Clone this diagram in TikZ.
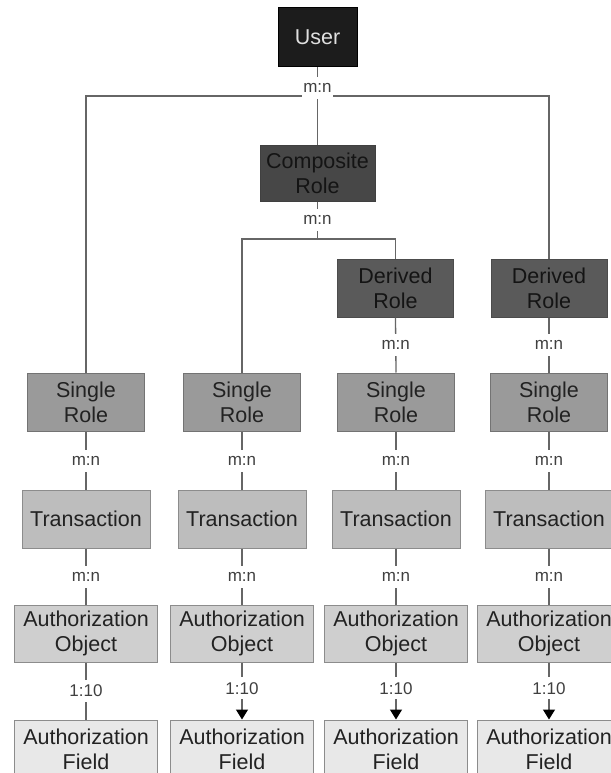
\documentclass[tikz,border=0pt]{standalone}
\usepackage{fontspec}
\setmainfont{Liberation Sans}
\usetikzlibrary{arrows.meta}
\definecolor{userfill}{HTML}{1C1C1C}
\definecolor{compfill}{HTML}{474747}
\definecolor{derivfill}{HTML}{5A5A5A}
\definecolor{singlefill}{HTML}{9A9A9A}
\definecolor{transfill}{HTML}{BDBDBD}
\definecolor{objfill}{HTML}{CFCFCF}
\definecolor{fieldfill}{HTML}{E8E8E8}
\definecolor{linecol}{HTML}{666666}
\definecolor{txtcol}{HTML}{222222}
\definecolor{darktxt}{HTML}{141414}
\definecolor{usertxt}{HTML}{E0E0E0}
\tikzset{
  box/.style={draw=#1, line width=1pt, inner sep=2pt, align=center,
    text=txtcol, font=\fontsize{21.5}{25}\selectfont},
  box/.default={black!45},
  userbox/.style={box=black, fill=userfill, text=usertxt,
    minimum width=79pt, minimum height=59pt},
  compbox/.style={box=black!75, fill=compfill, text=darktxt,
    minimum width=115pt, minimum height=56pt},
  derivbox/.style={box=black!70, fill=derivfill, text=darktxt,
    minimum width=116pt, minimum height=58pt},
  singlebox/.style={box=black!55, fill=singlefill,
    minimum width=117pt, minimum height=58pt},
  transbox/.style={box, fill=transfill,
    minimum width=128pt, minimum height=58pt},
  objbox/.style={box, fill=objfill,
    minimum width=143pt, minimum height=57pt},
  fieldbox/.style={box, fill=fieldfill,
    minimum width=143pt, minimum height=58pt},
  conn/.style={draw=linecol, line width=1.3pt},
  lbl/.style={fill=white, inner sep=1pt, minimum height=22pt,
    text=black!75, font=\fontsize{17}{19}\selectfont},
  tip/.style={-{Triangle[length=10pt 0 0,width=12pt 0 0,color=black]}}
}
\begin{document}
\begin{tikzpicture}[x=1pt,y=-1pt]
\useasboundingbox[fill=white] (0,0) rectangle (610,773);

% upper levels
\node[userbox]  (user) at (317.5,37.5) {User};
\node[compbox]  (comp) at (317.5,173) {Composite\\Role};
\node[derivbox] (der1) at (395.5,288) {Derived\\Role};
\node[derivbox] (der2) at (549,288)   {Derived\\Role};

% four columns
\foreach \i/\x in {1/86,2/242,3/396,4/549}{
  \node[singlebox] (sr\i) at (\x,402)   {Single\\Role};
  \node[transbox]  (tr\i) at (\x,519)   {Transaction};
  \node[objbox]    (ao\i) at (\x,633.5) {Authorization\\Object};
  \node[fieldbox]  (af\i) at (\x,749)   {Authorization\\Field};
}

% junction points of the branching connectors
\coordinate (ju) at (317.5,96);
\coordinate (jc) at (317.5,239);

% branches
\draw[conn] (sr1.north) |- (ju) -| (der2.north);
\draw[conn] (sr2.north) |- (jc) -| (der1.north);
\draw[conn] (user.south) -- (comp.north) node[lbl,pos=0.27] {m:n};
\draw[conn] (comp.south) -- (jc) node[lbl,midway] {m:n};

% derived roles to single roles
\draw[conn] (der1.south) -- (sr3.north) node[lbl,midway] {m:n};
\draw[conn] (der2.south) -- (sr4.north) node[lbl,midway] {m:n};

% column chains
\foreach \i in {1,2,3,4}{
  \draw[conn] (sr\i.south) -- (tr\i.north) node[lbl,midway] {m:n};
  \draw[conn] (tr\i.south) -- (ao\i.north) node[lbl,midway] {m:n};
}
\draw[conn] (ao1.south) -- (af1.north) node[lbl,midway] {1:10};
\foreach \i in {2,3,4}{
  \draw[conn,tip] (ao\i.south) -- (af\i.north) node[lbl,pos=0.45] {1:10};
}
\end{tikzpicture}
\end{document}
